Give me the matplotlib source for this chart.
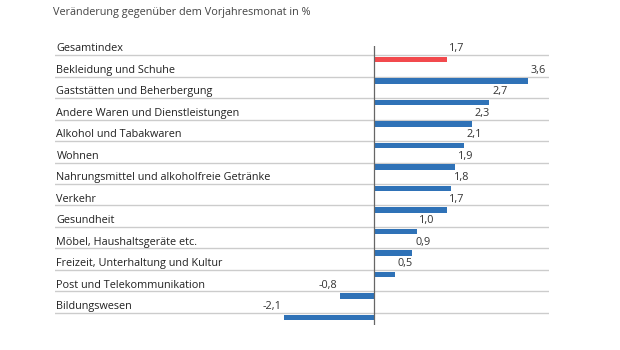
import numpy as np
import matplotlib
matplotlib.use("Agg")
from matplotlib import pyplot as plt
import matplotlib.transforms as mtransforms

plt.rcParams['font.family'] = ['Open Sans', 'DejaVu Sans']

# Daten
kategorien = ["Gesamtindex", "Bekleidung und Schuhe", "Gaststätten und Beherbergung",
              "Andere Waren und Dienstleistungen", "Alkohol und Tabakwaren", "Wohnen",
              "Nahrungsmittel und alkoholfreie Getränke", "Verkehr", "Gesundheit",
              "Möbel, Haushaltsgeräte etc.", "Freizeit, Unterhaltung und Kultur",
              "Post und Telekommunikation", "Bildungswesen"]
werte = [1.7, 3.6, 2.7, 2.3, 2.1, 1.9, 1.8, 1.7, 1.0, 0.9, 0.5, -0.8, -2.1]
titel = "Veränderung gegenüber dem Vorjahresmonat in %"

blau = '#2f72b7'
rot = '#f24a4d'

fig = plt.figure(figsize=(6.2, 3.5), dpi=100)
# Achse in Pixelkoordinaten platziert (x 55..549, y 46..325)
ax = fig.add_axes([55 / 620, 25 / 350, 494 / 620, 279 / 350])
ax.set_xlim(-7.45, 4.09)
ax.set_ylim(12.56, -0.42)
ax.axis('off')

y = np.arange(len(werte))
farben = [rot] + [blau] * (len(werte) - 1)

for i in y:
    ax.axhline(i, color='#cccccc', lw=1, zorder=1)
ax.axvline(0, color='#666666', lw=0.9, zorder=3)

ax.barh(y + 0.08, werte, height=0.25, align='edge', color=farben, zorder=2)

fs = 7.8
trans = mtransforms.blended_transform_factory(ax.transAxes, ax.transData)
for i, (k, w) in enumerate(zip(kategorien, werte)):
    ax.text(0.003, i - 0.17, k, transform=trans, ha='left', va='baseline',
            fontsize=fs, color='#222222')
    s = ('%.1f' % w).replace('.', ',')
    if w >= 0:
        ax.text(w + 0.06, i - 0.17, s, ha='left', va='baseline', fontsize=fs, color='#333333')
    else:
        ax.text(w - 0.06, i - 0.17, s, ha='right', va='baseline', fontsize=fs, color='#333333')

fig.text(53 / 620, 1 - 13 / 350, titel, ha='left', va='center', fontsize=fs, color='#444444')

plt.savefig('out.png', dpi=100)
